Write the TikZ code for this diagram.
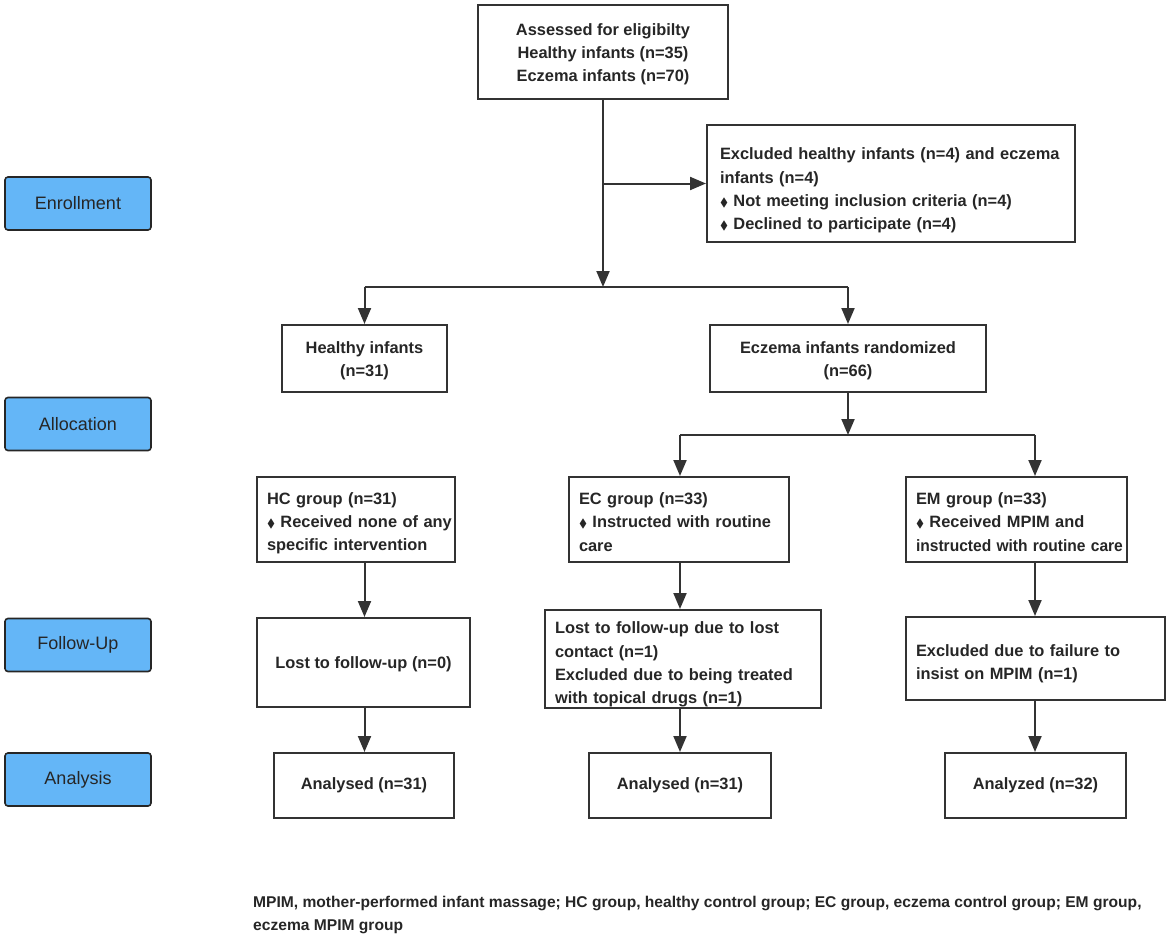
\documentclass[tikz,border=0pt]{standalone}
\usepackage{amssymb}
\usepackage{graphicx}
\usepackage{fontspec}
\setmainfont{Liberation Sans}
\usetikzlibrary{arrows.meta}
\definecolor{ln}{HTML}{333333}
\definecolor{lab}{HTML}{64B6F7}
\newcommand{\dia}{{\fontsize{12}{12}\selectfont$\blacklozenge$}\ }
\newcommand{\up}[1]{\rule{0pt}{#1}}
\tikzset{
  box/.style={draw=ln, line width=2pt, rectangle, inner sep=0pt, font=\bfseries\fontsize{16.4}{23.2}\selectfont, text=black!85},
  lbox/.style={box, align=left},
  cbox/.style={box, align=center},
  stage/.style={draw=black!85, line width=1.6pt, fill=lab, rounded corners=3pt, minimum width=146pt, minimum height=53pt, inner sep=0pt, font=\fontsize{18}{22}\selectfont, text=black!85},
  arr/.style={draw=ln, line width=2pt, -{Triangle[length=16pt,width=13pt]}},
  ln/.style={draw=ln, line width=2pt}
}
\begin{document}
\begin{tikzpicture}[x=1pt,y=-1pt]
\useasboundingbox (0,0) rectangle (1170,939);
% stage labels
\node[stage] (enr) at (78,203.5) {Enrollment};
\node[stage] (all) at (78,424) {Allocation};
\node[stage] (fol) at (78,645) {Follow-Up};
\node[stage] (ana) at (78,779.5) {Analysis};
% boxes
\node[cbox, minimum width=250pt, minimum height=94pt] (top) at (603,52) {\up{16pt}Assessed for eligibilty\\Healthy infants (n=35)\\Eczema infants (n=70)};
\node[lbox, minimum width=368pt, minimum height=117pt, text width=342pt] (excl) at (891,183.5) {\up{26pt}\mbox{Excluded healthy infants (n=4) and eczema}\\infants (n=4)\\\dia Not meeting inclusion criteria (n=4)\\\dia Declined to participate (n=4)};
\node[cbox, minimum width=165pt, minimum height=67pt] (healthy) at (364.5,358.5) {\up{16pt}Healthy infants\\(n=31)};
\node[cbox, minimum width=276pt, minimum height=67pt] (eczema) at (848,358.5) {\up{16pt}Eczema infants randomized\\(n=66)};
\node[lbox, minimum width=198pt, minimum height=85pt, text width=178pt] (hc) at (356,519.5) {\up{19pt}HC group (n=31)\\\mbox{\dia Received none of any}\\specific intervention};
\node[lbox, minimum width=220pt, minimum height=85pt, text width=200pt] (ec) at (679,519.5) {\up{17pt}EC group (n=33)\\\mbox{\dia Instructed with routine}\\care};
\node[lbox, minimum width=221pt, minimum height=85pt, text width=201pt] (em) at (1016.5,519.5) {\up{17pt}EM group (n=33)\\\dia Received MPIM and\\\mbox{\scalebox{0.95}[1]{instructed with routine care}}};
\node[cbox, minimum width=213pt, minimum height=89pt] (lost0) at (363.5,662.5) {\up{16pt}Lost to follow-up (n=0)};
\node[lbox, minimum width=276pt, minimum height=98pt, text width=256pt] (eclost) at (683,659) {\up{23pt}\mbox{Lost to follow-up due to lost}\\contact (n=1)\\\mbox{Excluded due to being treated}\\with topical drugs (n=1)};
\node[lbox, minimum width=259pt, minimum height=83pt, text width=239pt] (emexcl) at (1035.5,658.5) {\up{22pt}Excluded due to failure to\\insist on MPIM (n=1)};
\node[cbox, minimum width=180pt, minimum height=65pt] (an1) at (364,785.5) {Analysed (n=31)};
\node[cbox, minimum width=182pt, minimum height=65pt] (an2) at (680,785.5) {Analysed (n=31)};
\node[cbox, minimum width=181pt, minimum height=65pt] (an3) at (1035.5,785.5) {Analyzed (n=32)};
% junctions
\coordinate (j1) at (603,287);
\coordinate (j2) at (848,435);
\coordinate (cec) at (680,435);
\coordinate (cem) at (1035,435);
% connectors
\draw[arr] (top.south) -- (j1);
\draw[arr] (top.south |- excl.west) -- (excl.west);
\draw[ln] (healthy.north |- j1) -- (eczema.north |- j1);
\draw[arr] (healthy.north |- j1) -- (healthy.north);
\draw[arr] (eczema.north |- j1) -- (eczema.north);
\draw[arr] (eczema.south) -- (j2);
\draw[ln] (cec) -- (cem);
\draw[arr] (cec) -- (cec |- ec.north);
\draw[arr] (cem) -- (cem |- em.north);
\draw[arr] (healthy.south |- hc.south) -- (healthy.south |- lost0.north);
\draw[arr] (cec |- ec.south) -- (cec |- eclost.north);
\draw[arr] (cem |- em.south) -- (cem |- emexcl.north);
\draw[arr] (healthy.south |- lost0.south) -- (healthy.south |- an1.north);
\draw[arr] (cec |- eclost.south) -- (an2.north);
\draw[arr] (cem |- emexcl.south) -- (cem |- an3.north);
% footnote
\node[anchor=north west, align=left, inner sep=0pt, font=\bfseries\fontsize{15.6}{23}\selectfont, text=black!85] (foot) at (253,896) {MPIM, mother-performed infant massage; HC group, healthy control group; EC group, eczema control group; EM group,\\eczema MPIM group};
\end{tikzpicture}
\end{document}
